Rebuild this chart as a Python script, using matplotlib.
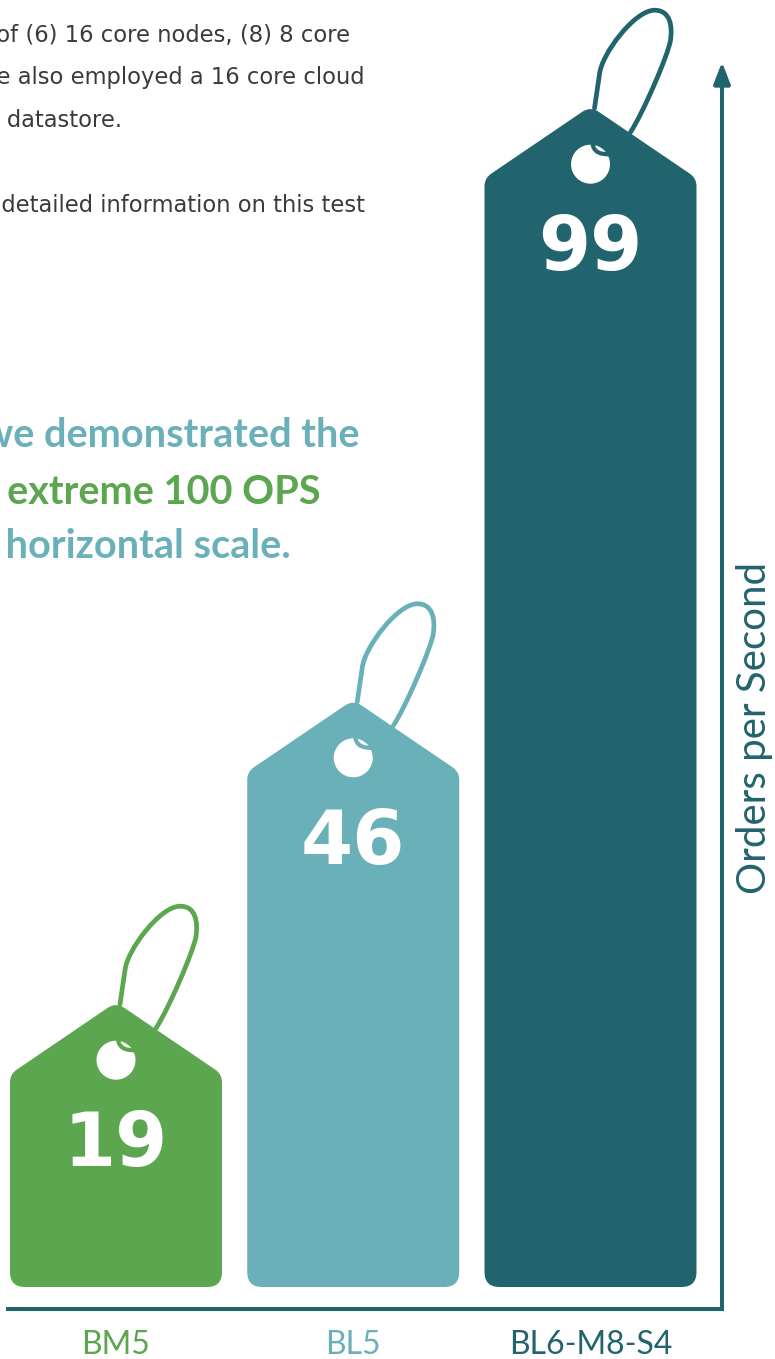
import numpy as np
import matplotlib.pyplot as plt
import matplotlib.patches as mpatches
import matplotlib.transforms as mtransforms
from matplotlib.path import Path

# chart data
categories = ["BM5", "BL5", "BL6-M8-S4"]
ops = [19, 46, 99]
tag_colors = ["#5BA64F", "#6AB0B8", "#22646E"]
axis_color = "#22646E"
text_gray = "#3A3A3A"

# cropped page text around the chart
body_lines = ["three clusters of (6) 16 core nodes, (8) 8 core",
              "we also employed a 16 core cloud",
              "for the datastore.",
              "for more detailed information on this test"]
body_right = [350, 365, 122, 365]       # right edge, px
body_base = [42, 84, 127, 212]          # baseline, px from top

callout_lines = ["results we demonstrated the", "an extreme 100 OPS", "on a horizontal scale."]
callout_colors = ["#6AB0B8", "#5BA64F", "#6AB0B8"]
callout_right = [359, 321, 291]
callout_base = [447, 504, 558]

W, H = 775, 1359
fig = plt.figure(figsize=(W / 100, H / 100), dpi=100)

# axes frame: left 8px, right 722px, top 62px, bottom 1309px
ax = fig.add_axes([8 / W, 50 / H, 714 / W, 1247 / H])
ax.set_autoscale_on(False)
px_per_unit = 11.2
xstep = 237.25
ax.set_xlim((8 - 116) / xstep, (722 - 116) / xstep)
ax.set_ylim(-22 / px_per_unit, (1287 - 62) / px_per_unit)
bar_w = 212 / xstep

for s in ["left", "top", "right"]:
    ax.spines[s].set_visible(False)
ax.spines["bottom"].set_color(axis_color)
ax.spines["bottom"].set_linewidth(2.9)
ax.spines["bottom"].set_capstyle("projecting")
ax.set_yticks([])
ax.annotate("", xy=(1, 1), xytext=(1, 0), xycoords="axes fraction",
            arrowprops=dict(arrowstyle="-|>,head_length=0.65,head_width=0.25",
                            color=axis_color, lw=2.9, shrinkA=0, shrinkB=0,
                            mutation_scale=20))

x = np.arange(len(categories))
ax.set_xticks(x, categories)
ax.tick_params(axis="x", length=0, pad=15)
for lbl, c in zip(ax.get_xticklabels(), tag_colors):
    lbl.set_color(c)
    lbl.set_fontfamily("Lato")
    lbl.set_fontsize(23)

ax.text(1.046, 0.466, "Orders per Second", transform=ax.transAxes, rotation=90,
        ha="center", va="center", color=axis_color, fontsize=29,
        fontfamily="Lato")


def rounded_path(pts, radii):
    verts, codes = [], []
    n = len(pts)
    for i in range(n):
        p, a, c = pts[i], pts[i - 1], pts[(i + 1) % n]
        u1 = (a - p) / np.linalg.norm(a - p)
        u2 = (c - p) / np.linalg.norm(c - p)
        verts += [p + radii[i] * u1, p, p + radii[i] * u2]
        codes += [Path.MOVETO if i == 0 else Path.LINETO, Path.CURVE3, Path.CURVE3]
    verts.append(verts[0])
    codes.append(Path.CLOSEPOLY)
    return Path(np.array(verts), codes)


ident = mtransforms.IdentityTransform()
roof = 72
for xi, v, col in zip(x, ops, tag_colors):
    (L, B) = ax.transData.transform((xi - bar_w / 2, 0))
    (R, S) = ax.transData.transform((xi + bar_w / 2, v))
    xc = (L + R) / 2
    P = S + roof
    body = rounded_path(np.array([[L, B], [R, B], [R, S], [xc, P], [L, S]]),
                        [15, 15, 8, 10, 8])
    ax.add_patch(mpatches.PathPatch(body, fc=col, ec="none", transform=ident,
                                    clip_on=False, zorder=2))

    # string loop
    loop = Path(np.array([[4, -2], [9, 32],
                          [11, 52], [44, 96], [64, 96],
                          [80, 96], [82, 80], [80, 66],
                          [78, 52], [52, -8], [40, -26]]) + [xc, P],
                [Path.MOVETO, Path.LINETO] + [Path.CURVE4] * 9)
    ax.add_patch(mpatches.PathPatch(loop, fc="none", ec=col, lw=3.4,
                                    capstyle="round", transform=ident,
                                    clip_on=False, zorder=1))

    # hole with string threaded through
    hx, hy = xc, S + 14
    ax.add_patch(mpatches.Circle((hx, hy), 19.5, fc="white", ec="none",
                                 transform=ident, clip_on=False, zorder=3))
    hook = Path(np.array([[2, 21], [3, 9], [20, 10]]) + [hx, hy],
                [Path.MOVETO, Path.CURVE3, Path.CURVE3])
    ax.add_patch(mpatches.PathPatch(hook, fc="none", ec=col, lw=3,
                                    transform=ident, clip_on=False, zorder=4))

    ax.text(xi, v, str(v), ha="center", va="baseline", color="white",
            fontsize=54, fontweight="bold", zorder=5,
            transform=mtransforms.offset_copy(ax.transData, fig=fig, y=-92, units="dots"))

# surrounding page text
for t, r, b in zip(body_lines, body_right, body_base):
    fig.text(r / W, 1 - b / H, t, ha="right", va="baseline", color=text_gray,
             fontsize=16.3)
for t, c, r, b in zip(callout_lines, callout_colors, callout_right, callout_base):
    fig.text(r / W, 1 - b / H, t, ha="right", va="baseline", color=c,
             fontsize=28.5, fontfamily="Lato", fontweight="bold")

fig.savefig("out.png", dpi=100)
